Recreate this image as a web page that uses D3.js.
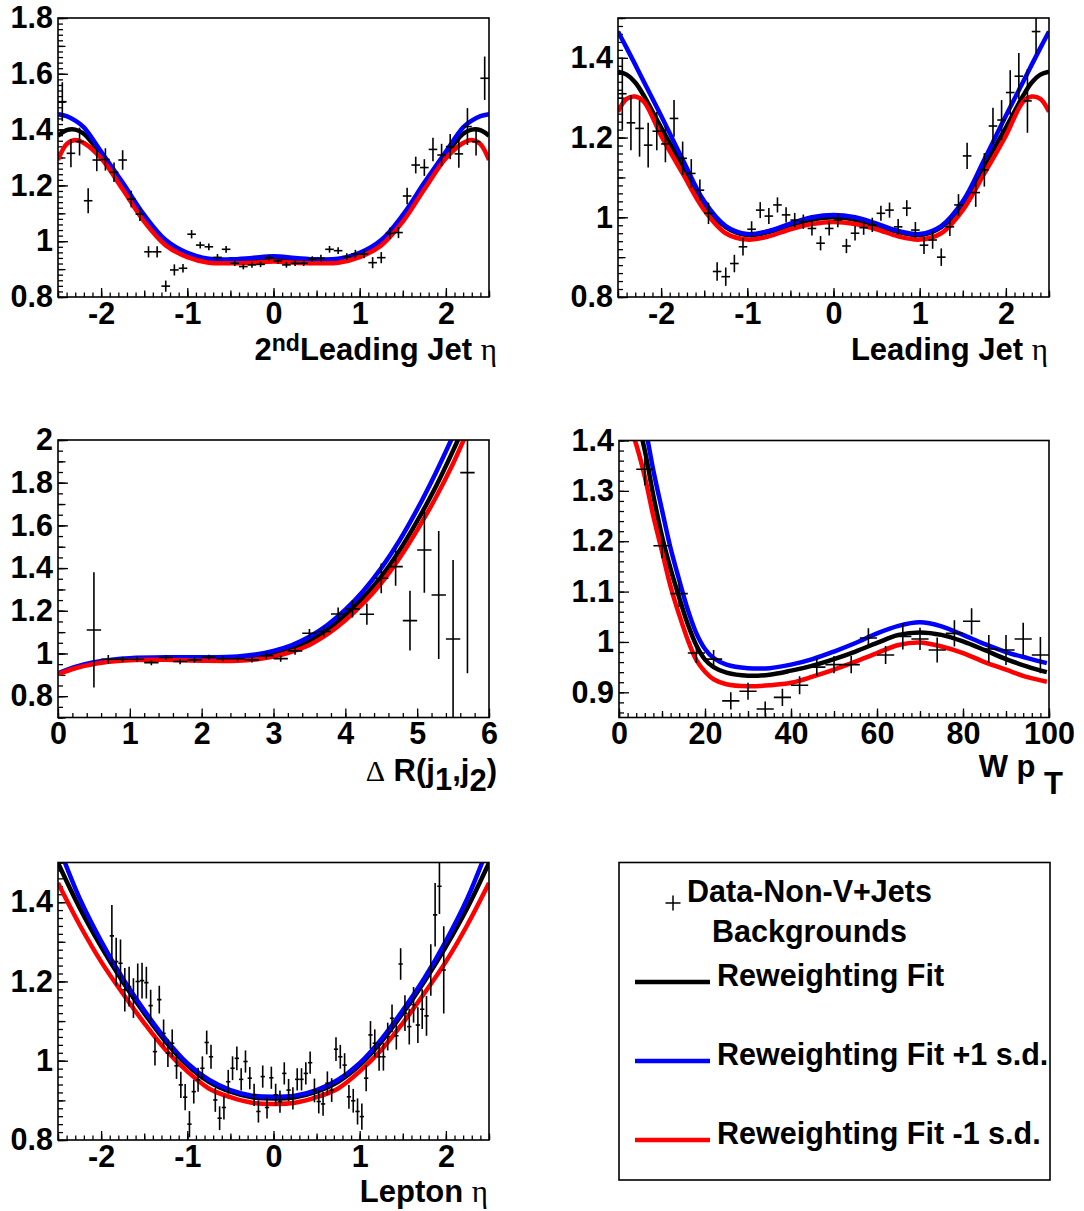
<!DOCTYPE html>
<html>
<head>
<meta charset="utf-8">
<script src="https://cdn.jsdelivr.net/npm/d3@7"></script>
<style>
  html, body { margin: 0; padding: 0; background: #fff; }
  svg { display: block; }
  text { font-family: "Liberation Sans", Arial, Helvetica, sans-serif; font-weight: bold; fill: #000; }
</style>
</head>
<body>
<svg id="chart" width="1084" height="1211"></svg>
<script>
// ---------- 2nd leading jet eta ----------
const jet2EtaX = [-2.45,-2.35,-2.25,-2.15,-2.05,-1.95,-1.85,-1.75,-1.65,-1.55,-1.45,-1.35,-1.25,-1.15,-1.05,-0.95,-0.85,-0.75,-0.65,-0.55,-0.45,-0.35,-0.25,-0.15,-0.05,0.05,0.15,0.25,0.35,0.45,0.55,0.65,0.75,0.85,0.95,1.05,1.15,1.25,1.35,1.45,1.55,1.65,1.75,1.85,1.95,2.05,2.15,2.25,2.35,2.45];
const jet2EtaY = [1.50,1.315,1.357,1.145,1.291,1.293,1.247,1.291,1.151,1.097,0.962,0.962,0.839,0.897,0.903,1.025,0.986,0.980,0.942,0.971,0.921,0.909,0.915,0.917,0.941,0.929,0.915,0.921,0.921,0.936,0.939,0.971,0.966,0.945,0.954,0.954,0.923,0.941,1.028,1.031,1.162,1.273,1.264,1.329,1.309,1.339,1.313,1.411,1.357,1.584];
const jet2EtaErr = [0.07,0.05,0.05,0.045,0.04,0.04,0.035,0.035,0.03,0.025,0.02,0.02,0.02,0.02,0.015,0.015,0.012,0.012,0.012,0.012,0.01,0.01,0.01,0.01,0.01,0.01,0.01,0.01,0.01,0.01,0.012,0.012,0.012,0.012,0.015,0.015,0.02,0.02,0.02,0.02,0.03,0.03,0.03,0.042,0.04,0.045,0.05,0.066,0.05,0.078];
const jet2FitX    = [-2.5,-2.4,-2.3,-2.2,-2.0,-1.75,-1.5,-1.25,-1.0,-0.75,-0.5,-0.25,0,0.25,0.5,0.75,1.0,1.25,1.5,1.75,2.0,2.2,2.3,2.4,2.5];
const jet2FitNom  = [1.378,1.398,1.400,1.385,1.309,1.198,1.082,0.995,0.952,0.931,0.927,0.930,0.935,0.930,0.927,0.931,0.952,0.995,1.082,1.198,1.309,1.385,1.400,1.398,1.378];
const jet2FitUp   = [1.455,1.448,1.432,1.408,1.321,1.210,1.094,1.004,0.958,0.937,0.935,0.940,0.946,0.940,0.935,0.937,0.958,1.004,1.094,1.210,1.321,1.408,1.432,1.448,1.455];
const jet2FitDown = [1.291,1.348,1.363,1.352,1.297,1.186,1.070,0.985,0.943,0.923,0.921,0.923,0.927,0.923,0.921,0.923,0.943,0.985,1.070,1.186,1.297,1.352,1.363,1.348,1.291];

// ---------- leading jet eta ----------
const jet1EtaX = [-2.45,-2.35,-2.25,-2.15,-2.05,-1.95,-1.85,-1.75,-1.65,-1.55,-1.45,-1.35,-1.25,-1.15,-1.05,-0.95,-0.85,-0.75,-0.65,-0.55,-0.45,-0.35,-0.25,-0.15,-0.05,0.05,0.15,0.25,0.35,0.45,0.55,0.65,0.75,0.85,0.95,1.05,1.15,1.25,1.35,1.45,1.55,1.65,1.75,1.85,1.95,2.05,2.15,2.25,2.35];
const jet1EtaY = [1.31,1.237,1.223,1.181,1.216,1.184,1.248,1.148,1.110,1.068,1.010,0.864,0.851,0.884,0.926,0.970,1.018,1.003,1.031,1.006,0.993,0.989,0.972,0.935,0.972,0.993,0.928,0.960,0.974,0.981,1.010,1.018,0.976,1.023,0.968,0.930,0.943,0.900,0.976,1.031,1.154,1.062,1.119,1.229,1.244,1.313,1.354,1.292,1.466];
const jet1EtaErr = [0.09,0.069,0.071,0.056,0.048,0.046,0.046,0.042,0.036,0.027,0.027,0.023,0.023,0.022,0.022,0.02,0.02,0.02,0.019,0.019,0.018,0.018,0.018,0.018,0.018,0.018,0.018,0.018,0.018,0.018,0.019,0.019,0.02,0.02,0.02,0.022,0.022,0.022,0.023,0.027,0.033,0.036,0.042,0.046,0.05,0.056,0.058,0.08,0.056];
const jet1FitX    = [-2.5,-2.4,-2.3,-2.2,-2.0,-1.75,-1.5,-1.25,-1.0,-0.75,-0.5,-0.25,0,0.25,0.5,0.75,1.0,1.25,1.5,1.75,2.0,2.2,2.3,2.4,2.5];
const jet1FitNom  = [1.365,1.358,1.338,1.305,1.225,1.130,1.035,0.975,0.955,0.963,0.980,0.994,1.000,0.994,0.980,0.963,0.955,0.975,1.035,1.130,1.225,1.305,1.338,1.358,1.365];
const jet1FitUp   = [1.466,1.425,1.383,1.340,1.255,1.145,1.040,0.978,0.958,0.966,0.984,1.000,1.006,1.000,0.984,0.966,0.958,0.978,1.040,1.145,1.255,1.340,1.383,1.425,1.466];
const jet1FitDown = [1.265,1.297,1.303,1.290,1.205,1.110,1.018,0.960,0.944,0.952,0.970,0.983,0.988,0.983,0.970,0.952,0.944,0.960,1.018,1.110,1.205,1.290,1.303,1.297,1.265];

// ---------- delta R(j1,j2) ----------
const dRX   = [0.5,0.7,0.9,1.1,1.3,1.5,1.7,1.9,2.1,2.3,2.5,2.7,2.9,3.1,3.3,3.5,3.7,3.9,4.1,4.3,4.5,4.7,4.9,5.1,5.3,5.5,5.7];
const dRY   = [1.110,0.973,0.973,0.973,0.957,0.981,0.962,0.970,0.982,0.975,0.975,0.970,0.989,0.976,1.012,1.095,1.103,1.185,1.209,1.184,1.352,1.407,1.154,1.485,1.274,1.068,1.847];
const dRErr = [0.27,0.02,0.012,0.012,0.012,0.012,0.012,0.012,0.012,0.012,0.012,0.012,0.015,0.015,0.018,0.02,0.025,0.03,0.04,0.05,0.07,0.09,0.14,0.2,0.3,0.37,0.94];
const dRFitX    = [0,0.25,0.5,0.75,1.0,1.5,2.0,2.5,2.75,3.0,3.25,3.5,3.75,4.0,4.25,4.5,4.75,5.0,5.25,5.5,5.75];
const dRFitNom  = [0.905,0.935,0.955,0.966,0.973,0.976,0.974,0.976,0.984,1.000,1.024,1.060,1.112,1.180,1.263,1.360,1.480,1.620,1.775,1.950,2.140];
const dRFitUp   = [0.907,0.938,0.959,0.971,0.978,0.982,0.982,0.986,0.995,1.012,1.038,1.078,1.133,1.205,1.293,1.400,1.527,1.675,1.840,2.020,2.210];
const dRFitDown = [0.903,0.932,0.951,0.962,0.968,0.970,0.966,0.966,0.972,0.985,1.008,1.040,1.090,1.155,1.235,1.330,1.445,1.578,1.725,1.890,2.080];

// ---------- W pT ----------
const wptX   = [6,10,14,18,22,26,30,34,38,42,46,50,54,58,62,66,70,74,78,82,86,90,94,98];
const wptY   = [1.343,1.191,1.096,0.978,0.966,0.883,0.902,0.867,0.890,0.914,0.950,0.955,0.955,1.008,0.974,1.011,1.006,0.984,1.017,1.041,0.986,0.984,1.006,0.974];
const wptErr = [0.032,0.025,0.026,0.02,0.018,0.017,0.017,0.015,0.017,0.018,0.017,0.017,0.017,0.019,0.018,0.026,0.022,0.025,0.026,0.026,0.028,0.03,0.032,0.036];
const wptFitX    = [0,2,4,6,8,10,12,14,16,18,20,22,25,30,35,40,45,50,55,60,65,70,75,80,85,90,95,99.5];
const wptFitNom  = [1.56,1.50,1.45,1.38,1.29,1.21,1.145,1.088,1.035,0.993,0.965,0.950,0.939,0.933,0.935,0.943,0.953,0.966,0.981,0.998,1.014,1.019,1.014,1.001,0.984,0.966,0.951,0.940];
const wptFitUp   = [1.65,1.58,1.50,1.43,1.34,1.262,1.186,1.123,1.064,1.017,0.986,0.968,0.955,0.948,0.948,0.955,0.966,0.981,0.998,1.017,1.032,1.039,1.031,1.014,0.996,0.980,0.968,0.958];
const wptFitDown = [1.48,1.44,1.392,1.328,1.249,1.180,1.110,1.054,1.004,0.964,0.941,0.926,0.916,0.912,0.914,0.919,0.931,0.945,0.961,0.978,0.994,0.999,0.991,0.978,0.960,0.945,0.930,0.921];

// ---------- lepton eta ----------
const lepEtaX = [-1.875,-1.825,-1.775,-1.725,-1.675,-1.625,-1.575,-1.525,-1.475,-1.425,-1.375,-1.325,-1.275,-1.225,-1.175,-1.125,-1.075,-1.025,-0.975,-0.925,-0.875,-0.825,-0.775,-0.725,-0.675,-0.625,-0.575,-0.525,-0.475,-0.425,-0.375,-0.325,-0.275,-0.225,-0.175,-0.125,-0.075,-0.025,0.025,0.075,0.125,0.175,0.225,0.275,0.325,0.375,0.425,0.475,0.525,0.575,0.625,0.675,0.725,0.775,0.825,0.875,0.925,0.975,1.025,1.075,1.125,1.175,1.225,1.275,1.325,1.375,1.425,1.475,1.525,1.575,1.625,1.675,1.725,1.775,1.825,1.875,1.925,1.975];
const lepEtaY = [1.315,1.250,1.246,1.179,1.187,1.158,1.200,1.202,1.197,1.139,1.023,1.154,1.069,1.019,1.044,0.987,0.939,0.908,0.840,0.922,0.952,0.981,1.046,1.010,0.901,0.855,0.882,0.947,0.981,1.006,0.953,0.998,0.956,0.914,0.872,0.960,0.882,0.957,0.914,0.897,0.968,0.926,0.905,0.953,0.953,0.968,0.995,0.925,0.897,0.891,0.943,0.926,1.029,1.010,0.989,0.909,0.899,0.872,0.859,0.956,1.065,1.044,1.010,1.010,1.061,1.107,1.063,1.244,1.120,1.086,1.141,1.090,1.130,1.113,1.229,1.368,1.440,1.229];
const lepEtaErr = [0.078,0.06,0.06,0.055,0.05,0.05,0.045,0.045,0.04,0.04,0.035,0.035,0.035,0.035,0.035,0.033,0.033,0.033,0.033,0.03,0.03,0.03,0.03,0.03,0.03,0.03,0.03,0.03,0.03,0.03,0.028,0.028,0.028,0.028,0.028,0.028,0.028,0.028,0.028,0.028,0.028,0.028,0.028,0.028,0.028,0.028,0.028,0.03,0.03,0.03,0.03,0.03,0.03,0.03,0.03,0.03,0.03,0.033,0.033,0.033,0.035,0.035,0.035,0.035,0.035,0.035,0.035,0.04,0.045,0.045,0.045,0.045,0.05,0.05,0.065,0.08,0.07,0.11];
const lepFitX    = [-2.5,-2.25,-2.0,-1.75,-1.5,-1.25,-1.0,-0.75,-0.5,-0.25,0,0.25,0.5,0.75,1.0,1.25,1.5,1.75,2.0,2.25,2.5];
const lepFitNom  = [1.499,1.386,1.288,1.200,1.120,1.048,0.989,0.947,0.922,0.908,0.905,0.908,0.922,0.947,0.989,1.048,1.120,1.200,1.288,1.386,1.499];
const lepFitUp   = [1.545,1.410,1.302,1.208,1.127,1.054,0.994,0.952,0.926,0.912,0.909,0.912,0.926,0.952,0.994,1.054,1.127,1.208,1.302,1.410,1.545];
const lepFitDown = [1.448,1.343,1.250,1.170,1.095,1.027,0.973,0.930,0.908,0.894,0.891,0.894,0.908,0.930,0.973,1.027,1.095,1.170,1.250,1.343,1.448];

// ---------- tick labels ----------
const etaTicks = [-2,-1,0,1,2];
const etaTickLabels = ["-2","-1","0","1","2"];
const dRTicks = [0,1,2,3,4,5,6];
const dRTickLabels = ["0","1","2","3","4","5","6"];
const wptTicks = [0,20,40,60,80,100];
const wptTickLabels = ["0","20","40","60","80","100"];
const ratioTicksA = [0.8,1.0,1.2,1.4,1.6,1.8];
const ratioLabelsA = ["0.8","1","1.2","1.4","1.6","1.8"];
const ratioTicksB = [0.8,1.0,1.2,1.4];
const ratioLabelsB = ["0.8","1","1.2","1.4"];
const ratioTicksC = [0.8,1.0,1.2,1.4,1.6,1.8,2.0];
const ratioLabelsC = ["0.8","1","1.2","1.4","1.6","1.8","2"];
const ratioTicksD = [0.9,1.0,1.1,1.2,1.3,1.4];
const ratioLabelsD = ["0.9","1","1.1","1.2","1.3","1.4"];

// ---------- legend ----------
const legendEntries = ["Reweighting Fit","Reweighting Fit +1 s.d.","Reweighting Fit -1 s.d."];
const fitColors = ["#000000","#0000ff","#ff0000"];

const TICK_FONT = 30.5, TITLE_FONT = 31, LEGEND_FONT = 30.5;

const svg = d3.select("#chart");
svg.append("rect").attr("width",1084).attr("height",1211).attr("fill","#fff");

function stepTicks(domain, step) {
  const a = Math.ceil(domain[0]/step - 1e-9), b = Math.floor(domain[1]/step + 1e-9);
  return d3.range(a, b+1).map(i => +(i*step).toFixed(6));
}

let clipCount = 0;
function panel(o) {
  const f = o.frame;
  const x = d3.scaleLinear().domain(o.xDomain).range([f.l, f.r]);
  const y = d3.scaleLinear().domain(o.yDomain).range([f.b, f.t]);
  const g = svg.append("g");
  const cid = "clip" + (clipCount++);
  g.append("clipPath").attr("id", cid).append("rect")
    .attr("x", f.l).attr("y", f.t).attr("width", f.r-f.l).attr("height", f.b-f.t);

  // ticks point inward from the left and bottom edges
  const bottom = g.append("g").attr("transform", `translate(0,${f.b})`);
  const left = g.append("g").attr("transform", `translate(${f.l},0)`);
  const addAxis = (sel, axis) => { sel.append("g").call(axis).call(s => s.select(".domain").remove())
      .call(s => s.selectAll("line").attr("stroke","#000").attr("stroke-width",1.3)); };
  addAxis(bottom, d3.axisBottom(x).tickValues(stepTicks(o.xDomain, o.xMinor)).tickSize(-4.5).tickFormat(""));
  if (o.xMedium) addAxis(bottom, d3.axisBottom(x).tickValues(stepTicks(o.xDomain, o.xMedium)).tickSize(-6.5).tickFormat(""));
  addAxis(left, d3.axisLeft(y).tickValues(stepTicks(o.yDomain, o.yMinor)).tickSize(-5).tickFormat(""));
  if (o.yMedium) addAxis(left, d3.axisLeft(y).tickValues(stepTicks(o.yDomain, o.yMedium)).tickSize(-7.5).tickFormat(""));

  const xb = bottom.append("g").call(d3.axisBottom(x).tickValues(o.xTicks).tickSize(-9).tickPadding(5)
      .tickFormat((d,i) => o.xLabels[i]));
  xb.select(".domain").remove();
  xb.selectAll("line").attr("stroke","#000").attr("stroke-width",1.3);
  xb.selectAll("text").attr("font-size", TICK_FONT).attr("font-family", "Liberation Sans, Arial, sans-serif").attr("font-weight","bold");

  const yl = left.append("g").call(d3.axisLeft(y).tickValues(o.yTicks).tickSize(-10).tickPadding(5)
      .tickFormat((d,i) => o.yLabels[i]));
  yl.select(".domain").remove();
  yl.selectAll("line").attr("stroke","#000").attr("stroke-width",1.3);
  yl.selectAll("text").attr("font-size", TICK_FONT).attr("font-family", "Liberation Sans, Arial, sans-serif").attr("font-weight","bold");

  // fit curves
  const plot = g.append("g").attr("clip-path", `url(#${cid})`);
  const line = d3.line().x(d => x(d[0])).y(d => y(d[1])).curve(d3.curveCatmullRom.alpha(0.5));
  o.fits.forEach((vals, k) => {
    plot.append("path").datum(o.fitX.map((v,i) => [v, vals[i]]))
      .attr("d", line).attr("fill","none").attr("stroke", fitColors[k])
      .attr("stroke-width", 4.5).attr("stroke-linejoin","round");
  });

  // data points with error bars
  const pts = o.px.map((v,i) => ({x:v, y:o.py[i], e:o.pe[i]}));
  const pg = plot.selectAll("g.pt").data(pts).join("g").attr("class","pt");
  pg.append("line").attr("x1", d => x(d.x)).attr("x2", d => x(d.x))
    .attr("y1", d => y(d.y - d.e)).attr("y2", d => y(d.y + d.e))
    .attr("stroke","#000").attr("stroke-width",1.6);
  pg.append("line").attr("x1", d => x(d.x - o.halfBin)).attr("x2", d => x(d.x + o.halfBin))
    .attr("y1", d => y(d.y)).attr("y2", d => y(d.y))
    .attr("stroke","#000").attr("stroke-width",1.6);

  // frame
  g.append("rect").attr("x", f.l).attr("y", f.t).attr("width", f.r-f.l).attr("height", f.b-f.t)
    .attr("fill","none").attr("stroke","#000").attr("stroke-width",1.6);

  o.title(g);
}

const greek = s => s.append("tspan").attr("font-family","Liberation Serif, DejaVu Serif, serif").attr("font-weight","normal");

panel({
  frame:{l:58,t:18,r:489,b:297}, xDomain:[-2.5,2.5], yDomain:[0.8,1.8],
  xTicks:etaTicks, xLabels:etaTickLabels, xMedium:0.5, xMinor:0.1,
  yTicks:ratioTicksA, yLabels:ratioLabelsA, yMedium:0.1, yMinor:0.02,
  px:jet2EtaX, py:jet2EtaY, pe:jet2EtaErr, halfBin:0.05,
  fitX:jet2FitX, fits:[jet2FitNom, jet2FitUp, jet2FitDown],
  title: g => {
    const t = g.append("text").attr("x",497).attr("y",360).attr("text-anchor","end").attr("font-size",TITLE_FONT);
    t.append("tspan").text("2");
    t.append("tspan").attr("dy",-9).attr("font-size",23).text("nd");
    t.append("tspan").attr("dy",9).text("Leading Jet ");
    greek(t).attr("font-size",31).text("η");
  }
});

panel({
  frame:{l:618,t:18,r:1049,b:297}, xDomain:[-2.5,2.5], yDomain:[0.8,1.5],
  xTicks:etaTicks, xLabels:etaTickLabels, xMedium:0.5, xMinor:0.1,
  yTicks:ratioTicksB, yLabels:ratioLabelsB, yMedium:0.1, yMinor:0.02,
  px:jet1EtaX, py:jet1EtaY, pe:jet1EtaErr, halfBin:0.05,
  fitX:jet1FitX, fits:[jet1FitNom, jet1FitUp, jet1FitDown],
  title: g => {
    const t = g.append("text").attr("x",1048).attr("y",360).attr("text-anchor","end").attr("font-size",TITLE_FONT);
    t.append("tspan").text("Leading Jet ");
    greek(t).attr("font-size",31).text("η");
  }
});

panel({
  frame:{l:58,t:440,r:489,b:717.5}, xDomain:[0,6], yDomain:[0.7,2.0],
  xTicks:dRTicks, xLabels:dRTickLabels, xMedium:null, xMinor:0.2,
  yTicks:ratioTicksC, yLabels:ratioLabelsC, yMedium:0.1, yMinor:0.05,
  px:dRX, py:dRY, pe:dRErr, halfBin:0.1,
  fitX:dRFitX, fits:[dRFitNom, dRFitUp, dRFitDown],
  title: g => {
    const t = g.append("text").attr("x",497).attr("y",781).attr("text-anchor","end").attr("font-size",TITLE_FONT);
    greek(t).attr("font-size",30).text("Δ");
    t.append("tspan").text(" R(j");
    t.append("tspan").attr("dy",9).text("1");
    t.append("tspan").attr("dy",-9).text(",j");
    t.append("tspan").attr("dy",10).text("2");
    t.append("tspan").attr("dy",-10).text(")");
  }
});

panel({
  frame:{l:619,t:440.5,r:1049,b:717.5}, xDomain:[0,100], yDomain:[0.85,1.4],
  xTicks:wptTicks, xLabels:wptTickLabels, xMedium:10, xMinor:2,
  yTicks:ratioTicksD, yLabels:ratioLabelsD, yMedium:null, yMinor:0.02,
  px:wptX, py:wptY, pe:wptErr, halfBin:2,
  fitX:wptFitX, fits:[wptFitNom, wptFitUp, wptFitDown],
  title: g => {
    const t = g.append("text").attr("x",1063).attr("y",777).attr("text-anchor","end").attr("font-size",TITLE_FONT);
    t.append("tspan").text("W p ");
    t.append("tspan").attr("dy",17).text("T");
  }
});

panel({
  frame:{l:58,t:862.5,r:489,b:1140}, xDomain:[-2.5,2.5], yDomain:[0.8,1.5],
  xTicks:etaTicks, xLabels:etaTickLabels, xMedium:0.5, xMinor:0.1,
  yTicks:ratioTicksB, yLabels:ratioLabelsB, yMedium:0.1, yMinor:0.02,
  px:lepEtaX, py:lepEtaY, pe:lepEtaErr, halfBin:0.025,
  fitX:lepFitX, fits:[lepFitNom, lepFitUp, lepFitDown],
  title: g => {
    const t = g.append("text").attr("x",488).attr("y",1202).attr("text-anchor","end").attr("font-size",TITLE_FONT);
    t.append("tspan").text("Lepton ");
    greek(t).attr("font-size",31).text("η");
  }
});

// legend
const lg = svg.append("g");
lg.append("rect").attr("x",619).attr("y",862.5).attr("width",431).attr("height",317.5)
  .attr("fill","#fff").attr("stroke","#000").attr("stroke-width",1.6);
lg.append("line").attr("x1",665.5).attr("x2",680.5).attr("y1",903).attr("y2",903).attr("stroke","#000").attr("stroke-width",1.5);
lg.append("line").attr("x1",673).attr("x2",673).attr("y1",895.5).attr("y2",910.5).attr("stroke","#000").attr("stroke-width",1.5);
lg.append("text").attr("x",687).attr("y",902).attr("font-size",LEGEND_FONT).text("Data-Non-V+Jets");
lg.append("text").attr("x",712).attr("y",942).attr("font-size",LEGEND_FONT).text("Backgrounds");
const legY = [982, 1061, 1140];
legendEntries.forEach((txt, i) => {
  lg.append("line").attr("x1",635).attr("x2",710).attr("y1",legY[i]).attr("y2",legY[i])
    .attr("stroke",fitColors[i]).attr("stroke-width",4.5);
  lg.append("text").attr("x",717).attr("y",legY[i]+4).attr("font-size",LEGEND_FONT).text(txt);
});
</script>
</body>
</html>
